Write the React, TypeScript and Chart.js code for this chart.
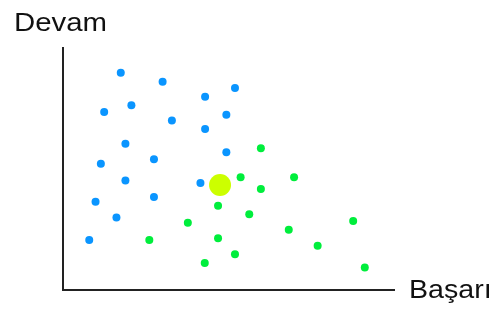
import React, { useEffect, useRef } from "react";
import { Chart, registerables } from "chart.js";

Chart.register(...registerables);

const xAxisLabel = "Başarı";
const yAxisLabel = "Devam";

const blueX = [17.4, 30.0, 51.8, 42.8, 20.6, 12.4, 32.8, 49.2, 42.8, 18.8, 49.2, 27.4, 11.4, 18.8, 41.4, 9.8, 27.4, 16.1, 7.9];
const blueY = [89.4, 85.7, 83.1, 79.5, 76.0, 73.3, 69.8, 72.1, 66.3, 60.2, 56.7, 53.8, 52.0, 45.1, 44.0, 36.3, 38.3, 29.8, 20.6];

const greenX = [59.6, 53.5, 69.6, 59.6, 46.7, 56.1, 87.4, 37.6, 68.0, 26.0, 46.7, 76.7, 51.8, 42.7, 90.9];
const greenY = [58.3, 46.4, 46.4, 41.6, 34.7, 31.2, 28.4, 27.7, 24.8, 20.6, 21.3, 18.2, 14.7, 11.1, 9.3];

const highlightX = [47.3];
const highlightY = [43.2];

const toPoints = (xs: number[], ys: number[]) => xs.map((x, i) => ({ x, y: ys[i] }));

const drawStretched = (ctx: any, text: string, x: number, y: number, sx: number) => {
  ctx.save();
  ctx.translate(x, y);
  ctx.scale(sx, 1);
  ctx.fillText(text, 0, 0);
  ctx.restore();
};

const axesPlugin = {
  id: "axesPlugin",
  afterDraw(chart: any) {
    const { ctx, chartArea } = chart;
    const { left, right, top, bottom } = chartArea;
    ctx.save();
    ctx.strokeStyle = "#222";
    ctx.lineWidth = 2;
    ctx.beginPath();
    ctx.moveTo(left, top);
    ctx.lineTo(left, bottom);
    ctx.lineTo(right, bottom);
    ctx.stroke();
    ctx.fillStyle = "#111";
    ctx.font = "26px 'Liberation Sans', Arial, sans-serif";
    ctx.textBaseline = "alphabetic";
    ctx.textAlign = "left";
    drawStretched(ctx, yAxisLabel, 14, 31, 1.13);
    drawStretched(ctx, xAxisLabel, right + 14, bottom + 8, 1.1);
    ctx.restore();
  },
};

export default function App() {
  const ref = useRef<HTMLCanvasElement | null>(null);
  useEffect(() => {
    if (!ref.current) return;
    const chart = new Chart(ref.current, {
      type: "scatter",
      data: {
        datasets: [
          {
            data: toPoints(highlightX, highlightY),
            backgroundColor: "#ccff00",
            borderWidth: 0,
            pointRadius: 11,
          },
          {
            data: toPoints(blueX, blueY),
            backgroundColor: "#0a95ff",
            borderWidth: 0,
            pointRadius: 4,
          },
          {
            data: toPoints(greenX, greenY),
            backgroundColor: "#00ee3c",
            borderWidth: 0,
            pointRadius: 4,
          },
        ],
      },
      options: {
        responsive: false,
        animation: false,
        layout: { padding: { left: 63, right: 103, top: 47, bottom: 19 } },
        plugins: { legend: { display: false }, tooltip: { enabled: false } },
        scales: {
          x: { display: false, min: 0, max: 100 },
          y: { display: false, min: 0, max: 100 },
        },
      },
      plugins: [axesPlugin],
    });
    return () => chart.destroy();
  }, []);
  return (
    <div style={{ position: "fixed", left: 0, top: 0, width: 498, height: 309, background: "#fff" }}>
      <canvas ref={ref} width={498} height={309} />
    </div>
  );
}
